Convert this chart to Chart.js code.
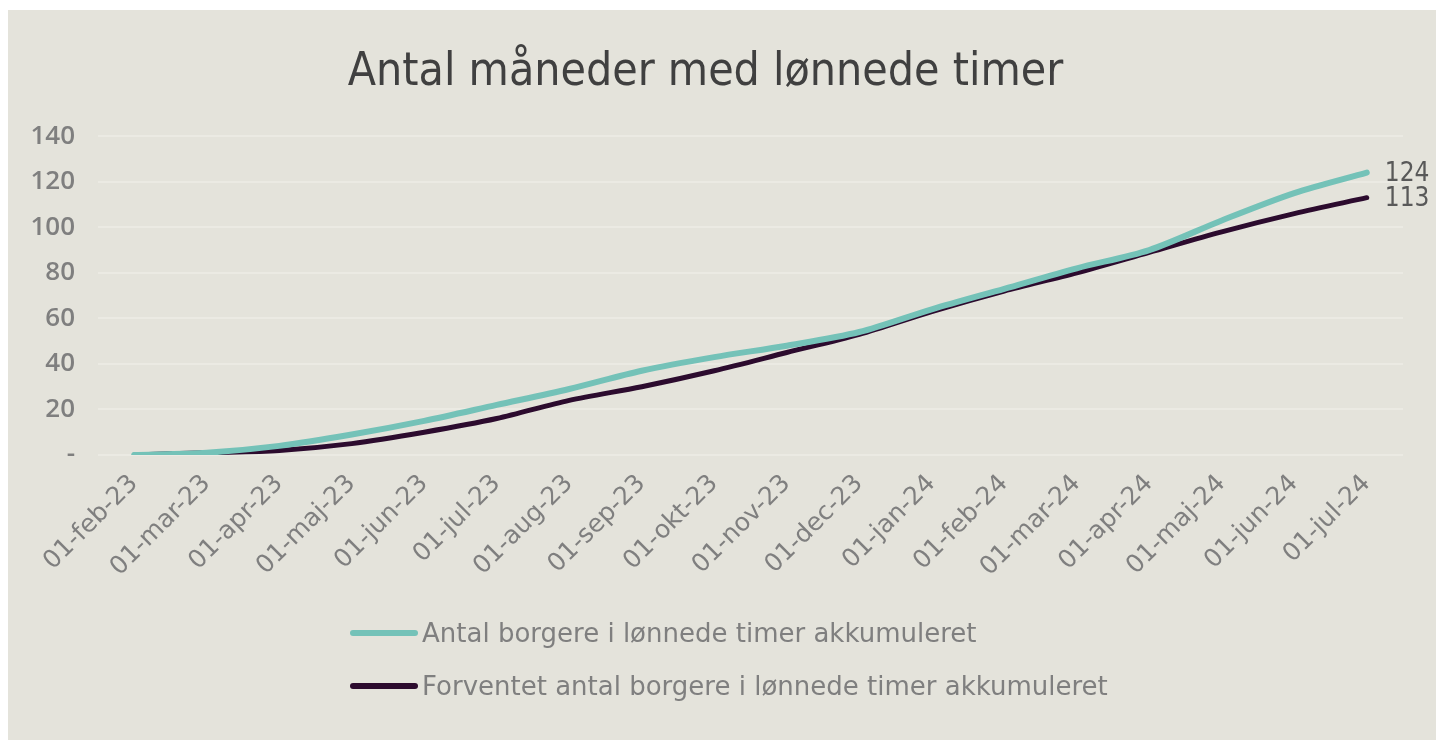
<!DOCTYPE html>
<html>
<head>
<meta charset="utf-8">
<script src="https://cdn.jsdelivr.net/npm/chart.js@4.4.1/dist/chart.umd.min.js"></script>
<style>
  html, body { margin: 0; padding: 0; background: #ffffff; }
  body { width: 1436px; height: 740px; position: relative; overflow: hidden; }
  #frame { position: absolute; left: 8px; top: 10px; width: 1428px; height: 730px; background: #E4E3DB; }
  #chartWrap { position: absolute; left: 0; top: 0; width: 1428px; height: 730px; }
  #legend { position: absolute; left: 342px; top: 596px; font-family: "DejaVu Sans", sans-serif; font-size: 26px; color: #7F7F7F; }
  .item { display: flex; align-items: center; height: 53px; }
  .swatch { width: 68px; height: 6px; border-radius: 3px; margin-right: 4px; }
</style>
</head>
<body>
<div id="frame">
  <div id="chartWrap"><canvas id="c" width="1428" height="730"></canvas></div>
  <div id="legend"></div>
</div>
<script>
const chartTitle = "Antal måneder med lønnede timer";
const categories = ["01-feb-23","01-mar-23","01-apr-23","01-maj-23","01-jun-23","01-jul-23","01-aug-23","01-sep-23","01-okt-23","01-nov-23","01-dec-23","01-jan-24","01-feb-24","01-mar-24","01-apr-24","01-maj-24","01-jun-24","01-jul-24"];
const seriesNames = ["Antal borgere i lønnede timer akkumuleret", "Forventet antal borgere i lønnede timer akkumuleret"];
const actualValues   = [0, 1, 4, 9, 15, 22, 29, 37, 43, 48, 54, 64, 73, 82, 90, 103, 115, 124];
const expectedValues = [0, 1, 2, 5, 10, 16, 24, 30, 37, 45, 53, 63, 72, 80, 89, 98, 106, 113];
const yTicks = [0, 20, 40, 60, 80, 100, 120, 140];
const seriesColors = ["#74C2B8", "#2C0B2E"];

const endLabels = {
  id: 'endLabels',
  afterDatasetsDraw(chart) {
    const ctx = chart.ctx;
    ctx.save();
    ctx.font = '26px "DejaVu Sans Condensed", "DejaVu Sans", sans-serif';
    ctx.fillStyle = '#595959';
    ctx.textAlign = 'left';
    ctx.textBaseline = 'middle';
    chart.data.datasets.forEach((ds, i) => {
      const meta = chart.getDatasetMeta(i);
      const pt = meta.data[meta.data.length - 1];
      ctx.fillText(String(ds.data[ds.data.length - 1]), pt.x + 18, pt.y + 2);
    });
    ctx.restore();
  }
};

const chart = new Chart(document.getElementById('c'), {
  type: 'line',
  data: {
    labels: categories,
    datasets: [
      { label: seriesNames[0], data: actualValues, borderColor: seriesColors[0], backgroundColor: seriesColors[0], borderWidth: 6, pointRadius: 0, tension: 0.3, borderCapStyle: 'round', borderJoinStyle: 'round' },
      { label: seriesNames[1], data: expectedValues, borderColor: seriesColors[1], backgroundColor: seriesColors[1], borderWidth: 5, pointRadius: 0, tension: 0.3, borderCapStyle: 'round', borderJoinStyle: 'round' }
    ]
  },
  options: {
    responsive: false,
    animation: false,
    layout: { padding: { left: 0, right: 33, top: 0, bottom: 0 } },
    plugins: {
      legend: { display: false },
      tooltip: { enabled: false },
      title: {
        display: true,
        text: chartTitle,
        color: '#404040',
        font: { family: '"DejaVu Sans Condensed", "Liberation Sans Narrow", "DejaVu Sans", sans-serif', size: 46, weight: 'normal' },
        padding: { top: 35, bottom: 36 }
      }
    },
    scales: {
      x: {
        offset: true,
        grid: { display: false, drawTicks: false },
        border: { display: false },
        ticks: {
          color: '#7F7F7F',
          font: { family: '"DejaVu Sans", sans-serif', size: 25 },
          minRotation: 45, maxRotation: 45, padding: 14, autoSkip: false
        },
        afterFit(scale) { scale.height = 285; }
      },
      y: {
        min: 0, max: 140,
        afterBuildTicks(scale) { scale.ticks = yTicks.map(v => ({ value: v })); },
        grid: { color: '#EBEAE3', lineWidth: 2, drawTicks: false },
        border: { display: false },
        ticks: {
          color: '#7F7F7F',
          font: { family: '"Open Sans", "DejaVu Sans", sans-serif', size: 26, weight: '600' },
          padding: 23,
          callback: (v) => v === 0 ? '-' : String(v)
        },
        afterFit(scale) { scale.width = 90; }
      }
    }
  },
  plugins: [endLabels]
});

const legend = document.getElementById('legend');
chart.data.datasets.forEach(ds => {
  const row = document.createElement('div');
  row.className = 'item';
  const sw = document.createElement('span');
  sw.className = 'swatch';
  sw.style.background = ds.borderColor;
  const tx = document.createElement('span');
  tx.textContent = ds.label;
  row.appendChild(sw); row.appendChild(tx);
  legend.appendChild(row);
});
</script>
</body>
</html>
